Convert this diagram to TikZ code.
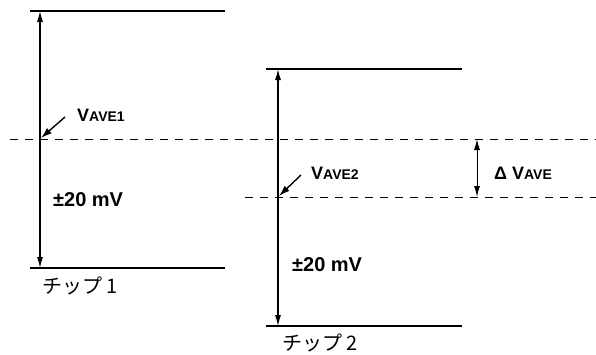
\documentclass[tikz,border=0pt]{standalone}
\usepackage{fontspec}
\setmainfont{Liberation Sans}
\newfontfamily\jpfont{Noto Sans CJK JP}
\usetikzlibrary{arrows.meta}
\newcommand\avesub[1]{{\fontsize{14}{16}\selectfont #1}}

\begin{document}
\begin{tikzpicture}[
    x=1pt, y=-1pt,
    level/.style={draw, line width=1.3pt},
    avg/.style={draw, line width=0.9pt, dash pattern=on 8pt off 7pt},
    span/.style={draw, line width=1.2pt, {Latex[length=11pt,width=6pt]}-{Latex[length=11pt,width=6pt]}},
    pointer/.style={draw, line width=1.4pt, -{Latex[length=11pt,width=7pt]}},
    lbl/.style={font=\bfseries\fontsize{20}{24}\selectfont, anchor=west, inner sep=0pt},
    vlbl/.style={font=\bfseries\fontsize{18}{22}\selectfont, anchor=west, inner sep=0pt},
    chip/.style={font=\jpfont\fontsize{20}{24}\selectfont, anchor=west, inner sep=0pt}
]
\useasboundingbox (0,0) rectangle (596,354);

% Chip 1
\coordinate (t1l) at (30,11);   \coordinate (t1r) at (225,11);
\coordinate (b1l) at (30,268);  \coordinate (b1r) at (225,268);
\coordinate (t1) at (40,11);    \coordinate (b1) at (40,268);
\draw[level] (t1l) -- (t1r);
\draw[level] (b1l) -- (b1r);
\draw[span] (t1) -- (b1);

% Chip 2
\coordinate (t2l) at (266,69);  \coordinate (t2r) at (462,69);
\coordinate (b2l) at (266,326); \coordinate (b2r) at (462,326);
\coordinate (t2) at (278,69);   \coordinate (b2) at (278,326);
\draw[level] (t2l) -- (t2r);
\draw[level] (b2l) -- (b2r);
\draw[span] (t2) -- (b2);

% average levels
\coordinate (a1l) at (10,139);  \coordinate (a1r) at (596,139);
\coordinate (a2l) at (245,197); \coordinate (a2r) at (596,197);
\draw[avg] (a1l) -- (a1r);
\draw[avg] (a2l) -- (a2r);

% delta
\coordinate (d1) at (477,139);  \coordinate (d2) at (477,197);
\draw[span, line width=1pt] (d1) -- (d2);
\node[vlbl] (dave) at (494,173) {Δ V\avesub{AVE}};

% labels
\node[vlbl] (ave1) at (77,115) {V\avesub{AVE1}};
\coordinate (p1) at (41,138);
\draw[pointer] (ave1.west) ++(-12,2) -- (p1);

\node[vlbl] (ave2) at (311,173) {V\avesub{AVE2}};
\coordinate (p2) at (279,196);
\draw[pointer] (ave2.west) ++(-10,2) -- (p2);

\node[lbl] (mv1) at (53,200) {±20 mV};
\node[lbl] (mv2) at (292,265) {±20 mV};

\node[chip] (chip1) at (42,286) {チップ 1};
\node[chip] (chip2) at (282,343) {チップ 2};
\end{tikzpicture}
\end{document}
